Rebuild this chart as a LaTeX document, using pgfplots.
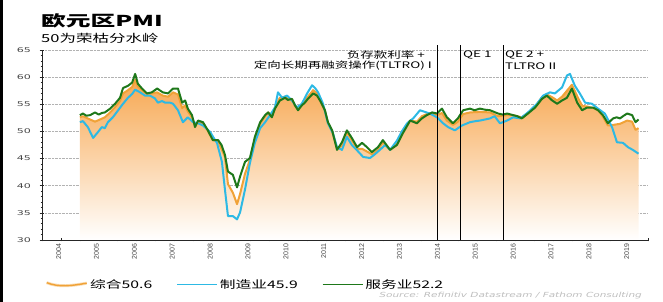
\documentclass[border=0pt]{standalone}
\usepackage{fontspec}
\setmainfont{DejaVu Sans}
\newfontfamily\cjk{Noto Sans CJK SC}
\newfontfamily\lsans{Liberation Sans}
\usepackage{graphicx}
\usepackage{pgfplots}
\usepackage{pgfplotstable}
\pgfplotsset{compat=1.18}
\newcommand\sx[2][1.5]{\scalebox{#1}[1]{#2}}
\definecolor{orLine}{RGB}{240,162,55}
\definecolor{orTop}{RGB}{247,168,82}
\definecolor{cyanL}{RGB}{45,185,228}
\definecolor{greenL}{RGB}{30,120,26}
\definecolor{tickgray}{RGB}{70,70,70}
\definecolor{srcgray}{RGB}{190,190,190}

\pgfplotstableread{
t v
2005.00 53.0
2005.08 53.3
2005.17 52.9
2005.27 53.0
2005.40 53.5
2005.50 53.1
2005.58 53.4
2005.66 53.5
2005.80 54.2
2005.93 55.1
2006.06 56.2
2006.14 58.0
2006.27 58.4
2006.38 59.0
2006.46 60.6
2006.53 58.8
2006.64 57.9
2006.77 57.0
2006.90 57.2
2007.04 57.9
2007.19 57.2
2007.33 57.0
2007.46 57.9
2007.59 57.9
2007.70 55.3
2007.78 55.7
2007.85 54.2
2007.96 53.0
2008.04 50.8
2008.12 52.0
2008.25 51.7
2008.38 50.2
2008.51 48.4
2008.65 48.4
2008.74 47.5
2008.83 45.7
2008.91 42.6
2009.04 42.0
2009.15 39.7
2009.23 41.7
2009.36 44.4
2009.49 45.1
2009.62 49.0
2009.76 51.7
2009.89 53.0
2009.97 53.5
2010.07 52.6
2010.15 54.2
2010.28 55.7
2010.42 56.2
2010.49 55.8
2010.60 56.0
2010.68 54.8
2010.76 53.9
2010.86 54.8
2010.94 55.3
2011.02 56.0
2011.16 57.0
2011.26 56.6
2011.34 55.7
2011.47 53.9
2011.55 51.7
2011.66 50.2
2011.79 46.6
2011.92 48.0
2012.05 50.2
2012.18 48.8
2012.32 47.1
2012.45 47.9
2012.58 47.1
2012.71 46.2
2012.87 47.1
2013.00 48.4
2013.19 46.6
2013.37 47.5
2013.53 49.7
2013.72 52.0
2013.90 51.5
2014.03 52.4
2014.16 53.0
2014.30 53.5
2014.43 53.3
2014.56 54.2
2014.69 52.6
2014.85 51.5
2014.98 52.4
2015.12 53.9
2015.30 54.2
2015.42 53.9
2015.56 54.2
2015.70 54.0
2015.83 53.9
2016.04 53.3
2016.17 53.1
2016.28 53.3
2016.44 53.0
2016.55 52.8
2016.67 52.4
2016.83 53.3
2017.02 54.4
2017.20 56.0
2017.33 56.6
2017.47 55.7
2017.60 55.1
2017.73 55.7
2017.86 56.2
2017.99 57.9
2018.13 55.3
2018.26 53.9
2018.39 54.4
2018.55 54.4
2018.68 53.9
2018.81 53.0
2018.94 51.5
2019.08 52.4
2019.17 52.6
2019.26 52.4
2019.36 52.9
2019.45 53.3
2019.58 53.0
2019.67 51.7
2019.75 52.2
}\serv

\pgfplotstableread{
t v
2005.00 51.7
2005.08 51.9
2005.21 50.8
2005.35 48.8
2005.48 49.9
2005.58 50.8
2005.66 50.6
2005.74 51.7
2005.87 52.6
2006.01 53.9
2006.14 55.1
2006.27 56.2
2006.38 56.9
2006.46 57.7
2006.59 57.2
2006.72 56.6
2006.85 56.6
2006.98 56.1
2007.06 55.3
2007.17 55.6
2007.25 55.3
2007.38 55.3
2007.46 55.1
2007.59 53.9
2007.72 51.7
2007.85 52.6
2007.99 51.7
2008.12 51.5
2008.25 51.1
2008.44 49.9
2008.57 48.4
2008.62 47.9
2008.75 44.4
2008.83 39.3
2008.91 34.4
2009.04 34.4
2009.15 33.8
2009.23 35.1
2009.36 39.3
2009.49 44.2
2009.62 47.9
2009.76 50.6
2009.89 51.7
2010.02 53.0
2010.15 54.4
2010.23 57.2
2010.34 56.2
2010.47 56.6
2010.60 55.7
2010.73 54.4
2010.86 55.1
2011.00 57.0
2011.13 58.5
2011.21 58.0
2011.29 57.2
2011.42 55.1
2011.55 51.5
2011.68 49.7
2011.79 47.1
2011.92 46.6
2012.05 49.0
2012.18 47.5
2012.32 46.5
2012.48 45.3
2012.66 45.1
2012.79 45.8
2012.92 46.6
2013.06 47.5
2013.19 46.6
2013.37 48.3
2013.50 50.0
2013.64 51.5
2013.80 52.4
2013.98 53.9
2014.11 53.6
2014.24 53.3
2014.43 52.6
2014.59 51.5
2014.72 50.8
2014.90 50.2
2015.09 51.1
2015.30 51.7
2015.45 51.9
2015.56 52.0
2015.70 52.2
2015.83 52.4
2015.95 52.8
2016.09 51.5
2016.28 52.0
2016.44 52.6
2016.63 52.4
2016.83 53.5
2017.07 55.1
2017.23 56.6
2017.41 57.2
2017.54 57.0
2017.73 58.1
2017.86 60.3
2017.94 60.6
2018.07 58.4
2018.20 57.0
2018.34 55.3
2018.52 55.1
2018.68 54.2
2018.86 53.3
2019.05 50.8
2019.18 48.0
2019.34 47.9
2019.47 47.1
2019.60 46.6
2019.75 45.9
}\manu

\pgfplotstableread{
t v
2005.00 52.6
2005.08 52.8
2005.27 52.2
2005.40 51.8
2005.53 52.2
2005.66 52.6
2005.80 53.5
2005.93 54.5
2006.06 55.6
2006.14 57.0
2006.27 57.6
2006.38 58.2
2006.46 59.5
2006.53 58.3
2006.64 57.6
2006.77 56.9
2006.90 57.0
2007.04 57.2
2007.19 56.6
2007.33 56.4
2007.46 57.2
2007.59 56.8
2007.70 54.3
2007.78 54.8
2007.85 53.7
2007.96 52.6
2008.04 51.2
2008.12 51.8
2008.25 51.5
2008.38 50.1
2008.51 48.4
2008.65 48.2
2008.83 45.3
2008.91 40.3
2009.04 38.7
2009.15 36.6
2009.23 38.5
2009.36 42.2
2009.49 44.8
2009.62 48.6
2009.76 51.4
2009.89 52.8
2009.97 53.5
2010.07 53.0
2010.15 54.4
2010.28 56.2
2010.42 56.4
2010.49 56.0
2010.60 55.9
2010.68 54.7
2010.76 54.1
2010.86 55.0
2010.94 55.7
2011.02 56.4
2011.16 57.6
2011.26 57.0
2011.34 55.8
2011.47 53.8
2011.55 51.6
2011.66 50.0
2011.79 46.8
2011.92 47.4
2012.05 49.8
2012.18 48.4
2012.32 46.8
2012.45 46.8
2012.58 46.3
2012.71 45.8
2012.87 46.6
2013.00 48.0
2013.19 46.6
2013.37 47.7
2013.53 50.2
2013.72 52.0
2013.90 51.8
2014.03 52.8
2014.16 53.2
2014.30 53.4
2014.43 53.0
2014.56 53.4
2014.69 52.0
2014.85 51.2
2014.98 51.8
2015.12 53.2
2015.30 53.5
2015.56 53.6
2015.83 53.5
2016.04 52.8
2016.28 53.0
2016.44 53.0
2016.67 52.6
2016.83 53.4
2017.02 54.6
2017.20 56.3
2017.33 56.8
2017.47 56.3
2017.60 55.7
2017.73 56.4
2017.86 57.5
2017.99 58.6
2018.13 56.5
2018.26 54.7
2018.39 54.6
2018.55 54.3
2018.68 54.0
2018.81 52.7
2018.94 51.1
2019.08 51.2
2019.26 51.4
2019.45 52.0
2019.58 51.8
2019.67 50.3
2019.75 50.6
}\comp

\begin{document}
\begin{tikzpicture}[x=1pt,y=1pt]
\path[use as bounding box] (0,0) rectangle (663,302);
\fill[black] (0,0) rectangle (3,302);
\begin{axis}[
  at={(42pt,62pt)}, anchor=south west, scale only axis,
  width=606pt, height=190pt,
  xmin=2004, xmax=2020, ymin=30, ymax=65,
  clip=false,
  axis lines*=left,
  axis line style={black!85, line width=0.6pt},
  tick align=center,
  major tick length=5pt, minor tick length=3pt,
  tick style={black!85, line width=0.5pt},
  xtick={2004.4,2005.4,2006.4,2007.4,2008.4,2009.4,2010.4,2011.4,2012.4,2013.4,2014.4,2015.4,2016.4,2017.4,2018.4,2019.4},
  xticklabels={2004,2005,2006,2007,2008,2009,2010,2011,2012,2013,2014,2015,2016,2017,2018,2019},
  major x tick style={draw=none},
  minor xtick={2004,2004.5,...,2020},
  ytick={30,35,...,65},
  minor ytick={30,31,...,65},
  ymajorgrids,
  major grid style={densely dotted, black!30, line width=0.5pt},
  /pgf/number format/assume math mode=true,
  xticklabel style={rotate=90, anchor=east, font=\lsans\fontsize{7}{7}\selectfont, text=tickgray, inner sep=1pt, yshift=-1.5pt},
  yticklabel={\sx[1.7]{\pgfmathprintnumber{\tick}}},
  yticklabel style={font=\fontsize{6.5}{7}\selectfont, text=tickgray, xshift=-5pt},
  legend style={at={(0,-0.235)}, anchor=west, draw=none, fill=none,
    legend columns=3, font=\cjk\fontsize{10.5}{11}\selectfont,
    /tikz/every even column/.append style={column sep=22pt}},
  legend cell align=left,
  legend image code/.code={\draw[#1, line width=1.6pt] (0pt,0pt) -- (40pt,0pt);},
]
\addplot[draw=none, top color=orTop, bottom color=white, forget plot] table[x=t,y=v] {\comp} |- (axis cs:2005,30) -- cycle;
\addplot[orLine, line width=2pt, line join=round,
  legend image code/.code={\draw[orLine!80, line width=3pt, opacity=0.45] (0pt,2pt) .. controls (12pt,-3pt) and (26pt,-1pt) .. (40pt,1.5pt);\draw[orLine, line width=1.4pt] (0pt,2pt) .. controls (12pt,-3pt) and (26pt,-1pt) .. (40pt,1.5pt);}]
  table[x=t,y=v] {\comp};
\addlegendentry{\sx{综合50.6}}
\addplot[cyanL, line width=2pt, line join=round] table[x=t,y=v] {\manu};
\addlegendentry{\sx{制造业45.9}}
\addplot[greenL, line width=2pt, line join=round] table[x=t,y=v] {\serv};
\addlegendentry{\sx{服务业52.2}}
\draw[black, line width=0.6pt] (axis cs:2014.43,30) -- (axis cs:2014.43,65.9);
\draw[black, line width=0.6pt] (axis cs:2015.04,30) -- (axis cs:2015.04,65.9);
\draw[black, line width=0.6pt] (axis cs:2016.17,30) -- (axis cs:2016.17,65.9);
\end{axis}
\node[anchor=west, inner sep=0pt] at (41,281) {\cjk\bfseries\fontsize{15}{15}\selectfont\sx[1.65]{欧元区PMI}};
\node[anchor=west, inner sep=0pt] at (41,264) {\cjk\fontsize{11}{11}\selectfont\sx{50为荣枯分水岭}};
\node[anchor=east, inner sep=0pt] at (425,247) {\cjk\fontsize{9}{9}\selectfont\sx{负存款利率 +}};
\node[anchor=east, inner sep=0pt] at (432,236) {\cjk\fontsize{9}{9}\selectfont\sx{定向长期再融资操作(TLTRO) I}};
\node[anchor=west, inner sep=0pt] at (463,247) {\cjk\fontsize{9}{9}\selectfont\sx{QE 1}};
\node[anchor=west, inner sep=0pt] at (505,247) {\cjk\fontsize{9}{9}\selectfont\sx{QE 2 +}};
\node[anchor=west, inner sep=0pt] at (505,236) {\cjk\fontsize{9}{9}\selectfont\sx{TLTRO II}};
\node[anchor=east, inner sep=0pt, text=srcgray] at (642,6) {\fontsize{7}{7}\selectfont\itshape\sx{Source: Refinitiv Datastream / Fathom Consulting}};
\end{tikzpicture}
\end{document}
